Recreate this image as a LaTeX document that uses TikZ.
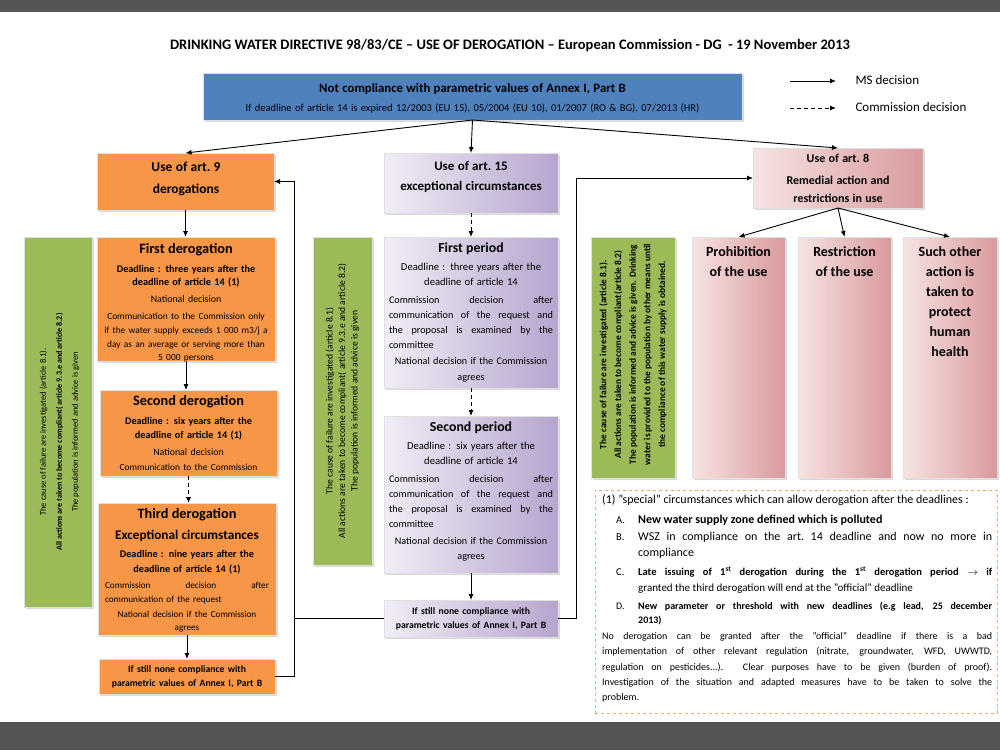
\documentclass[tikz,border=0pt]{standalone}
\usepackage{fontspec}
\setmainfont{Carlito}
\usetikzlibrary{arrows.meta,shadows,calc}
\definecolor{frameC}{HTML}{555555}
\definecolor{blueC}{HTML}{4F81BD}
\definecolor{orangeC}{HTML}{F79646}
\definecolor{greenC}{HTML}{9BBB59}
\definecolor{lavA}{HTML}{F1EDF6}
\definecolor{lavB}{HTML}{B6A5CE}
\definecolor{pinkA}{HTML}{F7E3E3}
\definecolor{pinkB}{HTML}{D99A9C}
\definecolor{noteC}{HTML}{F0A868}
\newcommand\fs[2]{\fontsize{#1}{#2}\selectfont}
\newcommand\Ln[4][]{{\fontsize{#2}{#3}\selectfont#1#4\par}}
\newcommand\sj[1]{{\spaceskip=0pt\xspaceskip=0pt\makebox[\hsize][s]{#1}}}
\newcommand\lj[1]{\makebox[\hsize][l]{#1}}
\begin{document}
\begin{tikzpicture}[x=1pt,y=-1pt,
  box/.style={anchor=north west, inner sep=0pt, outer sep=0pt, draw=black!12, line width=0.8pt,
    drop shadow={shadow xshift=1.5pt, shadow yshift=-1.5pt, opacity=0.3}},
  obox/.style={box, fill=orangeC},
  pbox/.style={box, left color=lavA, right color=lavB},
  rbox/.style={box, left color=pinkA, right color=pinkB},
  gbox/.style={box, fill=greenC},
  txt/.style={anchor=north, align=center, inner sep=0pt},
  ms/.style={-{Latex[length=6pt,width=5pt]}, line width=0.9pt},
  cd/.style={ms, dash pattern=on 4pt off 3pt},
  ln/.style={line width=0.9pt}
]
\useasboundingbox (0,0) rectangle (1000,750);
\fill[frameC] (0,0) rectangle (1000,12);
\fill[frameC] (0,722) rectangle (1000,750);

\node[font=\fs{14.5}{17}\bfseries] (title) at (510,46) {DRINKING WATER DIRECTIVE 98/83/CE – USE OF DEROGATION – European Commission - DG\ \ - 19 November 2013};

% top box
\node[box, fill=blueC, minimum width=539, minimum height=47] (blue) at (203,73) {};
\node[txt, text width=530] (bluet) at ($(blue.north)+(0,10)$) {%
  \Ln[\bfseries]{12.8}{15}{Not compliance with parametric values of Annex I, Part B}
  \Ln{10.5}{19.5}{If deadline of article 14 is expired 12/2003 (EU 15), 05/2004 (EU 10), 01/2007 (RO \& BG), 07/2013 (HR)}};

% legend
\coordinate (lga) at (790,81); \coordinate (lgb) at (836,81);
\draw[ms] (lga) -- (lgb);
\node[anchor=west, font=\fs{13}{15}] (lgt1) at (852,80) {MS decision};
\coordinate (lgc) at (790,108); \coordinate (lgd) at (836,108);
\draw[cd] (lgc) -- (lgd);
\node[anchor=west, font=\fs{13}{15}] (lgt2) at (852,107) {Commission decision};

% ---------- left column ----------
\node[obox, minimum width=177, minimum height=57] (use9) at (97,153) {};
\node[align=center, text width=170, inner sep=0pt] (use9t) at (186,178.5) {%
  \Ln[\bfseries]{13.5}{16}{Use of art.\ 9}\Ln[\bfseries]{13.5}{22}{derogations}};

\node[obox, minimum width=178, minimum height=124] (fd) at (97,237) {};
\node[txt, text width=172] (fdt) at ($(fd.north)+(0,6.3)$) {%
  \Ln[\bfseries]{14.3}{16}{First derogation}
  \Ln[\bfseries]{10.2}{18.5}{Deadline : three years after the}
  \Ln[\bfseries]{10.2}{13}{deadline of article 14 (1)}
  \Ln{9.9}{17}{National decision}
  \Ln{9.4}{17}{Communication to the Commission only}
  \Ln{9.4}{14}{if the water supply exceeds 1 000 m3/j a}
  \Ln{9.4}{14}{day as an average or serving more than}
  \Ln{9.4}{13}{5 000 persons}};

\node[obox, minimum width=177, minimum height=86] (sd) at (100,390) {};
\node[txt, text width=170] (sdt) at ($(sd.north)+(0,5.3)$) {%
  \Ln[\bfseries]{14.3}{16}{Second derogation}
  \Ln[\bfseries]{10.2}{18.5}{Deadline : six years after the}
  \Ln[\bfseries]{10.2}{14}{deadline of article 14 (1)}
  \Ln{9.9}{17}{National decision}
  \Ln{9.4}{15}{Communication to the Commission}};

\node[obox, minimum width=178, minimum height=132] (td) at (98,503) {};
\node[txt, text width=164] (tdt) at ($(td.north)+(0,5.3)$) {%
  \Ln[\bfseries]{14.3}{16}{Third derogation}
  \Ln[\bfseries]{13.2}{20.5}{Exceptional circumstances}
  \Ln[\bfseries]{10.2}{18}{Deadline : nine years after the}
  \Ln[\bfseries]{10.2}{15}{deadline of article 14 (1)}
  \Ln{9.2}{16.5}{\sj{Commission decision after}}
  \Ln{9.2}{14}{\lj{communication of the request}}
  \Ln{9.2}{15}{National decision if the Commission}
  \Ln{9.2}{13}{agrees}};

\node[obox, minimum width=176, minimum height=35, text width=170, align=center] (still1) at (99,659)
  {\Ln[\bfseries]{9.7}{12}{If still none compliance with}\Ln[\bfseries]{9.7}{14}{parametric values of Annex I, Part B}};

\node[gbox, minimum width=68, minimum height=370] (gL) at (24,237) {};
\node[rotate=90, align=center, inner sep=0pt, font=\fs{8.5}{16}] (gLt) at ($(gL.center)+(1.5,10)$)
  {The cause of failure are investigated (article 8.1).\\
   {\bfseries\fs{8.1}{16}All actions are taken to become compliant( article 9.3.e and article 8.2)}\\
   The population is informed and advice is given};

% ---------- middle column ----------
\node[pbox, minimum width=174, minimum height=60] (use15) at (384,153) {};
\node[align=center, text width=168, inner sep=0pt] (use15t) at (471,177.5) {%
  \Ln[\bfseries]{13}{16}{Use of art.\ 15}\Ln[\bfseries]{13}{20}{exceptional circumstances}};

\node[pbox, minimum width=174, minimum height=151] (fp) at (384,237) {};
\node[txt, text width=164] (fpt) at ($(fp.north)+(0,5.6)$) {%
  \Ln[\bfseries]{13.8}{16}{First period}
  \Ln{10.6}{18.5}{Deadline : three years after the}
  \Ln{10.6}{15}{deadline of article 14}
  \Ln{10.2}{18}{\sj{Commission decision after}}
  \Ln{10.2}{15}{\sj{communication of the request and}}
  \Ln{10.2}{15}{\sj{the proposal is examined by the}}
  \Ln{10.2}{15}{\lj{committee}}
  \Ln{10.2}{16}{National decision if the Commission}
  \Ln{10.2}{16}{agrees}};

\node[pbox, minimum width=174, minimum height=157] (spd) at (384,416) {};
\node[txt, text width=164] (spdt) at ($(spd.north)+(0,5.6)$) {%
  \Ln[\bfseries]{13.8}{16}{Second period}
  \Ln{10.6}{18.5}{Deadline : six years after the}
  \Ln{10.6}{15}{deadline of article 14}
  \Ln{10.2}{18}{\sj{Commission decision after}}
  \Ln{10.2}{15}{\sj{communication of the request and}}
  \Ln{10.2}{15}{\sj{the proposal is examined by the}}
  \Ln{10.2}{15}{\lj{committee}}
  \Ln{10.2}{17}{National decision if the Commission}
  \Ln{10.2}{15}{agrees}};

\node[pbox, minimum width=174, minimum height=37, text width=170, align=center] (still2) at (384,600)
  {\Ln[\bfseries]{9.7}{12}{If still none compliance with}\Ln[\bfseries]{9.7}{14}{parametric values of Annex I, Part B}};

\node[gbox, minimum width=59, minimum height=328] (gM) at (313,237) {};
\node[rotate=90, align=center, inner sep=0pt, font=\fs{9.6}{12.5}] (gMt) at (gM.center)
  {The cause of failure are investigated (article 8.1)\\
   All actions are taken to become compliant( article 9.3.e and article 8.2)\\
   The population is informed and advice is given};

% ---------- right column ----------
\node[rbox, minimum width=170, minimum height=60, text width=165, align=center] (use8) at (753,148)
  {\Ln[\bfseries]{12}{14}{Use of art.\ 8}\Ln[\bfseries]{12}{22}{Remedial action and}\Ln[\bfseries]{12}{18}{restrictions in use}};

\node[gbox, minimum width=84, minimum height=241] (gR) at (591,237) {};
\node[rotate=90, align=center, inner sep=0pt, font=\fs{9.4}{14.7}\bfseries] (gRt) at ($(gR.center)+(0,-3)$)
  {The cause of failure are investigated (article 8.1).\\
   All actions are taken to become compliant(article 8.2)\\
   The population is informed and advice is given. Drinking\\
   water is provided to the population by other means until\\
   the compliance of this water supply is obtained.};

\node[rbox, minimum width=93, minimum height=241] (proh) at (692,237) {};
\node[txt, font=\fs{14}{20}\bfseries] (proht) at ($(proh.north)+(0,9.5)$) {Prohibition\\of the use};
\node[rbox, minimum width=93, minimum height=241] (rest) at (798,237) {};
\node[txt, font=\fs{14}{20}\bfseries] (restt) at ($(rest.north)+(0,9.5)$) {Restriction\\of the use};
\node[rbox, minimum width=94, minimum height=241] (other) at (903,237) {};
\node[txt, font=\fs{14}{20}\bfseries] (othert) at ($(other.north)+(0,9.5)$) {Such other\\action is\\taken to\\protect\\human\\health};

% ---------- note ----------
\node[anchor=north west, draw=noteC, dashed, line width=0.6pt, minimum width=402, minimum height=223, inner sep=0pt] (note) at (595,490) {};
\node[anchor=north west, text width=390, align=justify, inner sep=0pt] (notet) at (602,494.5) {%
  {\fs{12}{14}(1) "special" circumstances which can allow derogation after the deadlines :\par}
  {\leftskip=36pt\fs{12}{20}\bfseries\noindent\llap{\makebox[22pt][l]{\mdseries\fs{10.5}{20}A.}}New water supply zone defined which is polluted\par}
  \vspace{1pt}
  {\leftskip=36pt\fs{12}{16}\noindent\llap{\makebox[22pt][l]{\fs{10.5}{16}B.}}WSZ in compliance on the art.\ 14 deadline and now no more in\linebreak compliance\par}
  \vspace{3pt}
  {\leftskip=36pt\fs{10.5}{16}\bfseries\noindent\llap{\makebox[22pt][l]{\mdseries C.}}Late issuing of 1\textsuperscript{st} derogation during the 1\textsuperscript{st} derogation period \ensuremath{\rightarrow} if\linebreak \mdseries\fs{11}{16}granted the third derogation will end at the "official" deadline\par}
  \vspace{4pt}
  {\leftskip=36pt\fs{10}{14}\bfseries\noindent\llap{\makebox[22pt][l]{\mdseries D.}}New parameter or threshold with new deadlines (e.g lead, 25 december\linebreak 2013)\par}
  \vspace{1pt}
  {\fs{10}{15.2}\noindent No derogation can be granted after the "official" deadline if there is a bad\linebreak implementation of other relevant regulation (nitrate, groundwater, WFD, UWWTD,\linebreak regulation on pesticides...). Clear purposes have to be given (burden of proof).\linebreak Investigation of the situation and adapted measures have to be taken to solve the\linebreak problem.\par}};

% ---------- connectors ----------
\draw[ms] (blue.south) -- (use9.north);
\draw[ms] (blue.south) -- (use15.north);
\draw[ms] (blue.south) -- (use8.north);

\draw[ms] (use9.south) -- (use9.south |- fd.north);
\draw[ms] (fd.south) -- (fd.south |- sd.north);
\draw[cd] (sd.south) -- (sd.south |- td.north);
\draw[ms] (td.south) -- (td.south |- still1.north);

\draw[cd] (use15.south) -- (fp.north);
\draw[cd] (fp.south) -- (spd.north);
\draw[ms] (spd.south) -- (still2.north);

\draw[ms] (use8.south) -- (proh.north);
\draw[ms] (use8.south) -- (rest.north);
\draw[ms] (use8.south) -- (other.north);

\coordinate (jl) at (294,0);
\coordinate (jr) at (576,0);
\draw[ms] (still1.east) -- (still1.east -| jl) |- (use9.east);
\draw[ln] (still2.west) -- (still2.west -| jl);
\draw[ms] (still2.east) -- (still2.east -| jr) |- (use8.west);
\end{tikzpicture}
\end{document}
